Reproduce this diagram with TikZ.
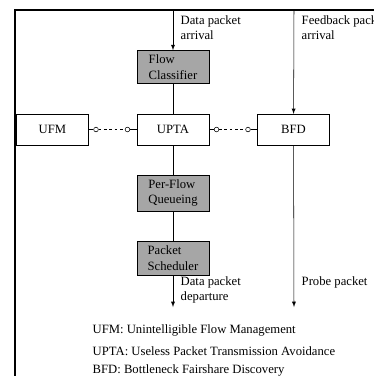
\documentclass[tikz,border=0pt]{standalone}
\usepackage{fontspec}
\setmainfont{Liberation Serif}
\usetikzlibrary{positioning}

\tikzset{
  txt/.style={font=\fontsize{9.5}{11.5}\selectfont},
  block/.style={txt, draw, minimum width=54pt, minimum height=23pt, align=left},
  grayblock/.style={block, fill=black!35},
  port/.style={circle, draw, fill=white, inner sep=0pt, minimum size=3.5pt},
  lbl/.style={txt, anchor=west, align=left},
  flow/.style={-latex},
  link/.style={dash pattern=on 2pt off 2pt}
}

\begin{document}
\begin{tikzpicture}[x=0.75pt, y=-0.75pt, node distance=22.5pt and 36pt]
  \useasboundingbox (0,0) rectangle (374,376);
  \clip (0,0) rectangle (374,376);

  % frame
  \draw[line width=1.2pt] (15,400) |- (400,10);

  \node[block] (upta) at (173,129.5) {UPTA};
  \node[block, left=of upta] (ufm) {UFM};
  \node[block, right=of upta] (bfd) {BFD};
  \node[grayblock, above=of upta] (fc) {Flow\\Classifier};
  \node[grayblock, below=of upta] (pfq) {Per-Flow\\Queueing};
  \node[grayblock, below=of pfq] (ps) {Packet\\Scheduler};

  \coordinate (din) at (173,10);
  \coordinate (dout) at (173,307);
  \coordinate (fin) at (294,10);
  \coordinate (pout) at (294,307);

  \draw[flow] (din) -- (fc);
  \draw (fc) -- (upta);
  \draw (upta) -- (pfq);
  \draw (pfq) -- (ps);
  \draw[flow] (ps) -- (dout);
  \draw[flow] (fin) -- (bfd);
  \draw[flow] (bfd) -- (pout);

  \node[port, right=3.5pt of ufm] (p1) {};
  \node[port, left=5pt of upta] (p2) {};
  \node[port, right=3.5pt of upta] (p3) {};
  \node[port, left=5pt of bfd] (p4) {};
  \draw (ufm) -- (p1);
  \draw[link] (p1) -- (p2);
  \draw (p2) -- (upta);
  \draw (upta) -- (p3);
  \draw[link] (p3) -- (p4);
  \draw (p4) -- (bfd);

  \node[lbl] (ain) at (176,27.5) {Data packet\\arrival};
  \node[lbl] (fbin) at (297,27.5) {Feedback packet\\arrival};
  \node[lbl] (aout) at (176,290) {Data packet\\departure};
  \node[lbl] (prb) at (297,282) {Probe packet};

  \node[lbl] (l1) at (88,330) {UFM: Unintelligible Flow Management};
  \node[lbl] (l2) at (88,351) {UPTA: Useless Packet Transmission Avoidance};
  \node[lbl] (l3) at (88,370) {BFD: Bottleneck Fairshare Discovery};
\end{tikzpicture}
\end{document}
